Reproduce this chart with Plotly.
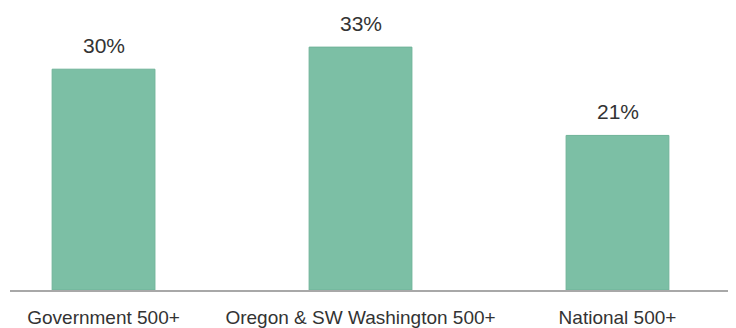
import plotly.graph_objects as go

categories = ["Government 500+", "Oregon & SW Washington 500+", "National 500+"]
values = [30, 33, 21]
value_labels = ["30%", "33%", "21%"]

bar_color = "#7cbfa5"
text_color = "#333333"

fig = go.Figure()
fig.add_trace(go.Bar(
    x=list(range(len(categories))),
    y=values,
    width=0.4,
    marker=dict(color=bar_color, line=dict(color="#6fb398", width=1)),
    hoverinfo="skip",
))

for i, (v, lab) in enumerate(zip(values, value_labels)):
    fig.add_annotation(x=i, y=v, text=lab, showarrow=False, yanchor="middle",
                       yshift=24, font=dict(size=21, color=text_color,
                                            family="Liberation Sans, Arial, sans-serif"))

fig.update_layout(
    width=736, height=328,
    margin=dict(l=10, r=8, t=0, b=35),
    plot_bgcolor="white", paper_bgcolor="white",
    showlegend=False,
    font=dict(family="Liberation Sans, Arial, sans-serif", color=text_color),
)
fig.update_xaxes(
    range=[-0.364, 2.43],
    tickmode="array",
    tickvals=list(range(len(categories))),
    ticktext=categories,
    tickfont=dict(size=19, color=text_color),
    showline=True, linecolor="#a8a8a8", linewidth=1.5,
    ticks="", ticklabelstandoff=9,
    showgrid=False, zeroline=False,
)
fig.update_yaxes(range=[0, 39.4], visible=False, showgrid=False, zeroline=False)

fig.write_html("out.html")
